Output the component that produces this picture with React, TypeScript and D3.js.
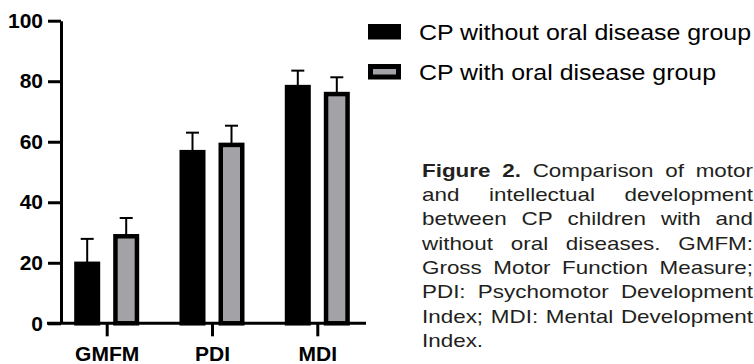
import { useEffect, useRef } from "react"
import * as d3 from "d3"

const categories = ["GMFM", "PDI", "MDI"]
const seriesNames = ["CP without oral disease group", "CP with oral disease group"]
const withoutMeans = [20.4, 57.3, 78.8]
const withoutSD = [7.5, 5.7, 4.7]
const withMeans = [29.5, 59.7, 76.5]
const withSD = [5.3, 5.6, 4.8]
const yTicks = [0, 20, 40, 60, 80, 100]

// caption lines as laid out in the figure (justified)
const captionLines = [
    "Figure 2. Comparison of motor",
    "and intellectual development",
    "between CP children with and",
    "without oral diseases. GMFM:",
    "Gross Motor Function Measure;",
    "PDI: Psychomotor Development",
    "Index; MDI: Mental Development",
    "Index.",
]

const GRAY = "#a3a3a7"

export default function App() {
    const ref = useRef<SVGSVGElement>(null)
    const width = 754, height = 364

    useEffect(() => {
        const svg = d3.select(ref.current)
        svg.selectAll("*").remove()

        const y = d3.scaleLinear().domain([0, 100]).range([323.3, 20.7])
        const x = d3.scalePoint<string>().domain(categories).range([106.7, 317.3])
        const barW = 26
        const offset = 19.5
        const axisFont = "'Liberation Sans', Arial, sans-serif"

        // y axis
        const yAxis = svg.append("g")
            .attr("transform", "translate(61,0)")
            .call(d3.axisLeft(y).tickValues(yTicks).tickSize(13).tickSizeOuter(0).tickPadding(5))
        yAxis.select(".domain").attr("stroke-width", 3).attr("stroke", "#000")
        yAxis.selectAll(".tick line").attr("stroke-width", 3).attr("stroke", "#000")
        yAxis.selectAll(".tick text")
            .attr("font-family", axisFont).attr("font-size", 21).attr("font-weight", "bold").attr("fill", "#000")

        // bars
        const series = [
            { means: withoutMeans, sds: withoutSD, fill: "#000", dx: -offset },
            { means: withMeans, sds: withSD, fill: GRAY, dx: offset },
        ]
        series.forEach(s => {
            const g = svg.append("g")
            const sw = 4.5
            g.selectAll("rect").data(categories).enter().append("rect")
                .attr("x", (c) => x(c)! + s.dx - barW / 2 + sw / 2)
                .attr("y", (c, i) => y(s.means[i]) + sw / 2)
                .attr("width", barW - sw)
                .attr("height", (c, i) => y(0) - y(s.means[i]) - sw / 2)
                .attr("fill", s.fill)
                .attr("stroke", "#000")
                .attr("stroke-width", sw)
            // error bars (upper only)
            g.selectAll("line.err").data(categories).enter().append("line")
                .attr("x1", (c) => x(c)! + s.dx).attr("x2", (c) => x(c)! + s.dx)
                .attr("y1", (c, i) => y(s.means[i]) + 1)
                .attr("y2", (c, i) => y(s.means[i] + s.sds[i]))
                .attr("stroke", "#000").attr("stroke-width", 2)
            g.selectAll("line.cap").data(categories).enter().append("line")
                .attr("x1", (c) => x(c)! + s.dx - 6.5).attr("x2", (c) => x(c)! + s.dx + 6.5)
                .attr("y1", (c, i) => y(s.means[i] + s.sds[i]))
                .attr("y2", (c, i) => y(s.means[i] + s.sds[i]))
                .attr("stroke", "#000").attr("stroke-width", 2)
        })

        // x axis
        const xAxis = svg.append("g")
            .attr("transform", `translate(0,${y(0)})`)
            .call(d3.axisBottom(x).tickSize(13).tickSizeOuter(0).tickPadding(10))
        xAxis.select(".domain").remove()
        xAxis.append("line").attr("x1", 47).attr("x2", 366).attr("y1", 0).attr("y2", 0)
            .attr("stroke", "#000").attr("stroke-width", 3)
        xAxis.selectAll(".tick line").attr("stroke-width", 3).attr("stroke", "#000")
        xAxis.selectAll(".tick text")
            .attr("font-family", axisFont).attr("font-size", 21).attr("font-weight", "bold").attr("fill", "#000")

        // legend
        const legend = svg.append("g")
        const legendLengths = [332, 297]
        seriesNames.forEach((name, i) => {
            const row = legend.append("g").attr("transform", `translate(368,${40 * i + 24})`)
            const sw = 5
            row.append("rect")
                .attr("x", sw / 2).attr("y", sw / 2)
                .attr("width", 33 - sw).attr("height", 15.5 - sw)
                .attr("fill", series[i].fill).attr("stroke", "#000").attr("stroke-width", sw)
            row.append("text")
                .attr("x", 51).attr("y", 16)
                .attr("font-family", axisFont).attr("font-size", 22).attr("fill", "#000")
                .attr("textLength", legendLengths[i]).attr("lengthAdjust", "spacingAndGlyphs")
                .text(name)
        })

        // caption, justified; glyphs a little wider than the installed font
        const capX0 = 422, capX1 = 753, capY0 = 176.7, lineH = 24.3
        const stretch = 1.18
        const cap = svg.append("g")
            .attr("font-family", "'Liberation Sans', Arial, sans-serif")
            .attr("font-size", 19)
            .attr("fill", "#231f20")
        captionLines.forEach((line, li) => {
            const words = line.split(" ")
            const nodes = words.map((w, wi) => cap.append("text")
                .attr("y", capY0 + li * lineH)
                .attr("font-weight", li === 0 && wi < 2 ? "bold" : "normal")
                .text(w))
            const widths = nodes.map(n => (n.node() as SVGTextElement).getComputedTextLength() * stretch)
            const total = d3.sum(widths)
            const last = li === captionLines.length - 1
            const gap = last || words.length < 2 ? 6 : (capX1 - capX0 - total) / (words.length - 1)
            let cx = capX0
            nodes.forEach((n, i) => {
                n.attr("x", cx)
                    .attr("textLength", widths[i])
                    .attr("lengthAdjust", "spacingAndGlyphs")
                cx += widths[i] + gap
            })
        })
    }, [])

    return (
        <div style={{ position: "absolute", left: 0, top: 0 }}>
            <svg ref={ref} width={width} height={height} style={{ display: "block", background: "#fff" }}></svg>
        </div>
    )
}
